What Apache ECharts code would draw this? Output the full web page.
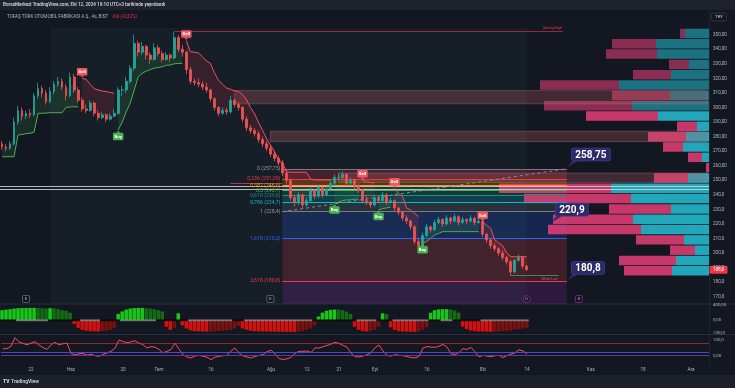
<!DOCTYPE html>
<html lang="tr">
<head>
<meta charset="utf-8">
<title>TOFAŞ 4s</title>
<script src="https://cdn.jsdelivr.net/npm/echarts@6/dist/echarts.min.js"></script>
<style>
html,body{margin:0;padding:0;background:#131722;overflow:hidden;}
#chart{width:735px;height:388px;}
</style>
</head>
<body>
<div id="chart"></div>
<script>
// ================= DATA =================
const tickIdx    = [7, 17, 30, 39, 52, 67, 76, 84, 93, 106, 120, 131, 147, 160, 172];
const tickLabels = ['22','Haz','20','Tem','16','Ağu','12','21','Eyl','16','Eki','14','Kas','18','Ara'];

const opens = [275,273,272,275,290,298,294,296,295,308, 313,310,304,311,316,318,314,308,321,312,
  305,299,298,303,296,293,295,292,294,296, 312,312,318,327,344,338,342,336,333,341,
  337,333,336,334,348,340,338,326,318,317, 316,314,312,306,300,296,298,297,305,302,
  300,292,286,284,282,278,275,272,268,265, 262,255,250,238,235,240,233,236,243,239,
  245,240,244,248,252,252,254,248,250,246, 243,236,235,233,238,236,240,235,236,231,
  228,224,222,218,208,205,212,218,216,221, 223,220,224,222,225,221,223,222,224,221,
  222,213,209,205,203,200,197,194,187,195, 197,191];
const highs = [277,275,277,293,301,300,298,299,310,317, 315,312,314,318,321,320,316,324,323,314,
  307,302,305,304,298,297,296,296,299,314, 315,321,329,350,346,345,343,338,344,343,
  339,338,337,352,350,343,339,328,320,320, 318,317,313,307,301,300,300,308,306,304,
  301,294,288,286,284,280,277,274,270,267, 264,257,251,240,242,241,238,245,244,247,
  246,246,250,254,255,256,255,252,251,248, 244,240,236,240,239,242,241,238,237,232,
  229,226,223,219,210,214,220,219,223,225, 224,226,225,227,226,225,224,226,225,224,
  223,214,210,207,204,202,198,195,196,199, 198,192];
const lows = [271,270,271,274,288,291,292,293,294,306, 307,302,303,309,314,312,305,307,310,303,
  297,296,297,294,291,292,290,291,293,295, 308,310,316,325,335,336,333,330,332,335,
  331,332,331,333,338,335,323,316,315,314, 312,310,304,298,294,295,295,296,300,298,
  290,284,282,280,276,273,270,266,263,260, 253,247,236,232,233,231,232,235,237,238,
  238,239,243,246,250,251,246,247,244,241, 234,233,231,232,234,235,233,234,229,226,
  222,220,216,206,203,204,211,214,215,220, 218,219,220,221,219,220,220,221,219,220,
  211,207,203,201,198,195,192,184.5,186,194, 189,187.5];
const closes = [273,272,275,290,298,294,296,295,308,313, 310,304,311,316,318,314,308,321,312,305,
  299,298,303,296,293,295,292,294,296,312, 312,318,327,344,338,342,336,333,341,337,
  333,336,334,348,340,338,326,318,317,316, 314,312,306,300,296,298,297,305,302,300,
  292,286,284,282,278,275,272,268,265,262, 255,250,238,235,240,233,236,243,239,245,
  240,244,248,252,252,254,248,250,246,243, 236,235,233,238,236,240,235,236,231,228,
  224,222,218,208,205,212,218,216,221,223, 220,224,222,225,221,223,222,224,221,222,
  213,209,205,203,200,197,194,187,195,197, 191,188.6];

const stValues = [266.2,266.2,266.2,266.2,281.1,281.5,282,282.3,283,296, 296,296.2,296.4,296.4,296.4,296.4,300.1,300.3,300.5,300.5,
  320,319.4,316,313,312,311.3,311,310.3,309.7,284.5, 290,297,303,312,321,323.5,325,326,327,327.5,
  328,329,329.2,330,330.3,330.3,346,338.3,338,337.5, 335,332,330.4,324,318.9,316,313.5,312.5,311.5,311,
  309,305.5,300,296,290,284.5,279,274.2,270,264, 262,256,255.5,255.5,255.5,255.5,255.5,251,250.2,250.2,
  250.2,250.2,250.2,234,235,236,236.5,236.5,237,237, 250,249,248.5,248,229.6,230.5,231,231.5,244.5,241,
  238.9,231,229.6,227.3,225,206.7,208,210,212.4,213.5, 214.7,214.7,214.7,214.7,214.7,214.7,214.7,214.7,214.7,214.7,
  221.5,219,217,209,207,205,200,197.5,197.5,197.5, 197.5,197.5];
const stDir = [1,1,1,1,1,1,1,1,1,1, 1,1,1,1,1,1,1,1,1,1,
  -1,-1,-1,-1,-1,-1,-1,-1,-1,1, 1,1,1,1,1,1,1,1,1,1,
  1,1,1,1,1,1,-1,-1,-1,-1, -1,-1,-1,-1,-1,-1,-1,-1,-1,-1,
  -1,-1,-1,-1,-1,-1,-1,-1,-1,-1, -1,-1,-1,-1,-1,-1,-1,-1,-1,-1,
  -1,-1,-1,1,1,1,1,1,1,1, -1,-1,-1,-1,1,1,1,1,-1,-1,
  -1,-1,-1,-1,-1,1,1,1,1,1, 1,1,1,1,1,1,1,1,1,1,
  -1,-1,-1,-1,-1,-1,-1,-1,-1,-1, -1,-1];
const sellIdx = [20, 46, 90, 98, 120];
const buyIdx  = [29, 83, 94, 105];

const momentum = [160,168,175,184,190,193,195,196,197,195, 190,186,190,188,180,160,150,120,-60,-120,
  -150,-165,-172,-175,-175,-170,-165,-150,-120,100, 140,170,185,192,195,196,190,185,175,160,
  140,-100,-150,-120,110,-80,-130,-160,-170,-175, -176,-177,-176,-172,-168,-165,-160,-150,-130,-90,
  -130,-150,-165,-172,-175,-177,-178,-178,-179,-180, -181,-182,-183,-184,-178,-170,-155,-130,-80,60,
  120,150,165,170,168,160,140,100,-100,-150, -170,-175,-170,-150,-100,110,100,-110,-150,-170,
  -178,-180,-182,-183,-175,-150,-110,120,160,172, 175,176,170,155,120,-100,-140,-160,-170,-175,
  -178,-180,-181,-178,-175,-170,-165,-160,-150,-140, -130,-120];
const squeeze = [0,0,0,0,1,1,1,1,1,1, 1,1,0,0,0,0,0,0,0,0, 1,1,1,1,1,0,0,0,0,0,
  1,1,1,1,1,1,1,1,1,0, 0,0,0,0,0,0,0,1,1,1, 1,1,1,1,1,1,1,1,0,0,
  0,1,1,1,1,1,1,1,1,1, 1,1,1,1,1,1,1,1,0,0, 0,0,0,0,0,0,0,0,0,1,
  1,1,1,1,0,0,0,0,1,1, 1,1,1,1,1,1,1,0,0,0, 1,1,1,0,0,0,0,0,0,0,
  1,1,1,1,1,1,1,1,1,1, 1,1];
const oscillator = [45,45,60,115,88,78,70,80,90,68, 52,40,70,85,70,76,80,15,5,12,
  14,3,9,0,-4,8,18,28,48,100, 90,82,88,95,80,70,50,58,55,40,
  18,28,40,80,42,6,-8,-15,-2,2, -3,-10,-25,-10,-4,0,2,30,49,18,
  -2,-8,-15,-5,2,7,26,35,10,-18, -24,-20,-10,15,28,28,30,20,50,49,
  57,65,74,85,78,66,55,17,-6,-8, -2,6,20,50,68,30,2,-3,6,3,
  0,-5,-12,-14,-5,49,58,55,53,60, 72,55,12,8,20,45,40,53,25,-8,
  2,-2,-6,0,2,-12,0,10,18,38, 30,12];
const oscLevels = [80, 20, 0];

const priceTicks = [170,180,190,200,210,220,230,240,250,260,270,280,290,300,310,320,330,340,350];
const histTickValues = [245, 0, -200];
const histTickLabels = ['400,00', '0,00', '-200,0'];
const oscTickValues = [100, 0];
const oscTickLabels = ['100,0', '0,00'];

const fibRatios = ['0','0,236','0,382','0,5','0,618','0,786','1','1,618','2,618'];
const fibPrices = [257.75, 251.0, 246.6, 243.1, 239.6, 234.7, 228.4, 210.2, 180.8];
const fibPriceText = ['257,75','251,00','246,6','243,1','239,6','234,7','228,4','210,2','180,8'];
const fibNextLevel = 151.6;
const fibSpan = [70, 141];

const profileUp   = [24,53,52,20,38,90,39,77,51,12, 23,26,7,0,21,98,78,38,76,68, 25,14,33,37];
const profileDown = [5,44,51,20,38,79,58,88,72,20, 38,20,14,3,34,112,107,62,80,93, 48,25,57,48];
const profileValueAreaStart = 8;

const zoneStart  = [58, 67, 84];
const zoneTop    = [311.7, 283.7, 255.0];
const zoneBottom = [302.5, 276.5, 248.5];

const hLines = [245.7, 244.0];
const redLine = {from: 57, to: 70, price: 247.9};
const trendFrom = [70, 228.4];
const trendTo   = [141, 257.9];
const strongHigh = {from: 43, to: 140, price: 352.7};
const weakLow    = {from: 127, to: 139, price: 184.5};
const bandRange = [12, 131];
const bandTop = 354.6;

const calloutIdx    = [141, 137, 141];
const calloutPrices = [258.75, 220.9, 180.8];

const eventIdx   = [6, 67, 131, 144];
const eventKinds = ['E', 'E', 'D', 'E'];

const headerText = 'BorsaMerkezi TradingView.com, Eki 12, 2024 19:10 UTC+3 tarihinde yayınlandı';
const titleText  = 'TOFAŞ TÜRK OTOMOBİL FABRİKASI A.Ş., 4s, BIST';
const changeText = '-0,6 (-0,32%)';

// ================= BUILD =================
const N_SLOTS = 177;
const categories = Array.from({length: N_SLOTS}, (_, i) => String(i));
const labelMap = {};
tickIdx.forEach((ix, k) => { labelMap[ix] = tickLabels[k]; });

const FONT = 'Roboto, "Liberation Sans", sans-serif';
const AX = '#b2b5be';
const UP = '#26a69a', DOWN = '#ef5350';
const fibColors = ['#787b86','#f23645','#ff9800','#4caf50','#089981','#00bcd4','#787b86','#2962ff','#f23645'];
const fibNextColor = '#9c27b0';
function rgba(hex, a) {
  const n = parseInt(hex.slice(1), 16);
  return `rgba(${(n >> 16) & 255},${(n >> 8) & 255},${n & 255},${a})`;
}
const fmtPrice = v => (v >= 250 ? v.toFixed(2) : v.toFixed(1)).replace('.', ',');
const fmtNum = v => String(v).replace('.', ',');

const nC = closes.length;
const candleData = closes.map((c, i) => [opens[i], c, lows[i], highs[i]]);
const stRed   = stValues.map((v, i) => stDir[i] < 0 ? v : null);
const stGreen = stValues.map((v, i) => stDir[i] > 0 ? v : null);
const fillData = [];
for (let i = 0; i < nC - 1; i++) {
  if (stDir[i] === stDir[i + 1]) {
    fillData.push([i, stValues[i], (opens[i] + closes[i]) / 2, stValues[i + 1], (opens[i + 1] + closes[i + 1]) / 2, stDir[i]]);
  }
}
const signalData = sellIdx.map(i => [i, stValues[i], -1]).concat(buyIdx.map(i => [i, stValues[i], 1]));

const histData = momentum.map((v, i) => {
  const p = i > 0 ? momentum[i - 1] : v;
  let c;
  if (v >= 0) c = v >= p ? '#19c719' : '#136b13';
  else c = v <= p ? '#d41111' : '#7a1010';
  return {value: v, itemStyle: {color: c}};
});
const sqData = squeeze.map((s, i) => ({value: [i, 0], itemStyle: {color: s ? '#8c8c8c' : '#050505'}}));

const profileRows = profileUp.map((_, r) => 'r' + r);
const vpUp = profileUp.map((v, r) => ({value: v, itemStyle: {color: r >= profileValueAreaStart ? 'rgba(38,198,218,0.82)' : 'rgba(38,198,218,0.52)'}}));
const vpDown = profileDown.map((v, r) => ({value: v, itemStyle: {color: r >= profileValueAreaStart ? 'rgba(236,64,122,0.83)' : 'rgba(236,64,122,0.55)'}}));

const fibZones = fibPrices.map((p, k) => {
  const lower = k + 1 < fibPrices.length ? fibPrices[k + 1] : fibNextLevel;
  const col = k + 1 < fibColors.length ? fibColors[k + 1] : fibNextColor;
  return [{xAxis: fibSpan[0], yAxis: p, itemStyle: {color: rgba(col, 0.2)}}, {xAxis: fibSpan[1], yAxis: lower}];
});
const fibLines = fibPrices.map((p, k) => {
  const lc = (k === 0 || k === 6) ? '#9598a1' : fibColors[k];
  return [{coord: [fibSpan[0], p], lineStyle: {color: fibColors[k]},
           label: {show: true, position: 'start', distance: 2, formatter: fibRatios[k] + ' (' + fibPriceText[k] + ')', color: lc, fontSize: 5.2, fontFamily: FONT}},
          {coord: [fibSpan[1], p]}];
});
const boxAreas = zoneStart.map((s, k) => [{xAxis: s, yAxis: zoneTop[k]}, {xAxis: N_SLOTS - 1, yAxis: zoneBottom[k]}]);

const extraLines = [
  ...hLines.map(v => ({yAxis: v, lineStyle: {color: '#d1d4dc', width: 1, opacity: 0.85}})),
  [{coord: [redLine.from, redLine.price], lineStyle: {color: '#c2303e', width: 1}}, {coord: [redLine.to, redLine.price]}],
  [{coord: trendFrom, lineStyle: {color: '#8a8d96', width: 1, type: [3, 3]}}, {coord: trendTo}],
  [{coord: [strongHigh.from, strongHigh.price], lineStyle: {color: 'rgba(242,54,69,0.75)', width: 0.8},
    label: {show: true, position: 'insideEndTop', formatter: 'Strong High', color: '#f23645', fontSize: 3.6, distance: 1}},
   {coord: [strongHigh.to, strongHigh.price]}],
  [{coord: [weakLow.from, weakLow.price], lineStyle: {color: '#5f8f6f', width: 0.8},
    label: {show: true, position: 'insideEndBottom', formatter: 'Weak Low', color: '#787b86', fontSize: 3.6, distance: 1}},
   {coord: [weakLow.to, weakLow.price]}]
];

const option = {
  backgroundColor: '#131722',
  animation: false,
  textStyle: {fontFamily: FONT},
  grid: [
    {left: 0, top: 11, width: 709, height: 293},
    {left: 0, top: 304, width: 709, height: 30},
    {left: 0, top: 335, width: 709, height: 30},
    {left: 409, top: 28.3, width: 300, height: 247.7}
  ],
  xAxis: [
    {type: 'category', gridIndex: 0, data: categories, show: false},
    {type: 'category', gridIndex: 1, data: categories, show: false},
    {type: 'category', gridIndex: 2, data: categories,
     axisLine: {show: false}, axisTick: {show: false}, splitLine: {show: false},
     axisLabel: {interval: 0, formatter: (v, i) => labelMap[i] || '', color: AX, fontSize: 4.6, margin: 2, fontFamily: FONT}},
    {type: 'value', gridIndex: 3, min: 0, max: 300, inverse: true, show: false}
  ],
  yAxis: [
    {type: 'value', gridIndex: 0, position: 'right', min: 165.0, max: 366.28, splitLine: {show: false},
     axisLine: {show: false}, axisTick: {show: false},
     axisLabel: {customValues: priceTicks, formatter: fmtPrice, color: AX, fontSize: 4.6, margin: 4, fontFamily: FONT}},
    {type: 'value', gridIndex: 1, position: 'right', min: -215.7, max: 256.7, splitLine: {show: false},
     axisLine: {show: false}, axisTick: {show: false},
     axisLabel: {customValues: histTickValues, formatter: v => histTickLabels[histTickValues.indexOf(v)], color: AX, fontSize: 4.4, margin: 4, fontFamily: FONT}},
    {type: 'value', gridIndex: 2, position: 'right', min: -59.2, max: 131.8, splitLine: {show: false},
     axisLine: {show: false}, axisTick: {show: false},
     axisLabel: {customValues: oscTickValues, formatter: v => oscTickLabels[oscTickValues.indexOf(v)], color: AX, fontSize: 4.4, margin: 4, fontFamily: FONT}},
    {type: 'category', gridIndex: 3, data: profileRows, inverse: true, show: false}
  ],
  series: [
    { // background band
      type: 'line', xAxisIndex: 0, yAxisIndex: 0, data: [], silent: true,
      markArea: {silent: true, z: 0, itemStyle: {color: 'rgba(60,115,110,0.09)'},
        data: [[{xAxis: bandRange[0], yAxis: bandTop}, {xAxis: bandRange[1], yAxis: 165.0}]]}
    },
    { // fibonacci
      type: 'line', xAxisIndex: 0, yAxisIndex: 0, data: [], silent: true,
      markArea: {silent: true, z: 1, data: fibZones},
      markLine: {silent: true, z: 4, symbol: ['none', 'none'], lineStyle: {type: 'solid', width: 1}, label: {show: false}, data: fibLines}
    },
    { // volume profile
      name: 'up', type: 'bar', xAxisIndex: 3, yAxisIndex: 3, stack: 'vp', data: vpUp, barCategoryGap: '8%', z: 2, silent: true
    },
    {
      name: 'down', type: 'bar', xAxisIndex: 3, yAxisIndex: 3, stack: 'vp', data: vpDown, barCategoryGap: '8%', z: 2, silent: true
    },
    { // zone boxes & drawn lines
      type: 'line', xAxisIndex: 0, yAxisIndex: 0, data: [], silent: true,
      markArea: {silent: true, z: 3, itemStyle: {color: 'rgba(197,95,103,0.27)', borderColor: 'rgba(215,150,160,0.45)', borderWidth: 0.6}, data: boxAreas},
      markLine: {silent: true, z: 4, symbol: ['none', 'none'], lineStyle: {type: 'solid', width: 1}, label: {show: false}, data: extraLines}
    },
    { // supertrend fill
      type: 'custom', xAxisIndex: 0, yAxisIndex: 0, data: fillData, z: 3, silent: true,
      encode: {x: 0, y: 1},
      renderItem: (params, api) => {
        const i = api.value(0);
        const p1 = api.coord([i, api.value(1)]), m1 = api.coord([i, api.value(2)]);
        const p2 = api.coord([i + 1, api.value(3)]), m2 = api.coord([i + 1, api.value(4)]);
        return {type: 'polygon', shape: {points: [p1, p2, m2, m1]},
          style: {fill: api.value(5) > 0 ? 'rgba(76,175,80,0.15)' : 'rgba(242,54,69,0.15)'}};
      }
    },
    {
      type: 'candlestick', xAxisIndex: 0, yAxisIndex: 0, data: candleData, z: 5, barWidth: 2.3, silent: true,
      itemStyle: {color: UP, color0: DOWN, borderColor: UP, borderColor0: DOWN, borderWidth: 0.8}
    },
    {
      type: 'line', xAxisIndex: 0, yAxisIndex: 0, data: stRed, showSymbol: false, z: 6, silent: true,
      lineStyle: {color: '#f2515c', width: 1}, connectNulls: false
    },
    {
      type: 'line', xAxisIndex: 0, yAxisIndex: 0, data: stGreen, showSymbol: false, z: 6, silent: true,
      lineStyle: {color: '#4caf50', width: 1}, connectNulls: false
    },
    { // buy / sell signals
      type: 'custom', xAxisIndex: 0, yAxisIndex: 0, data: signalData, z: 7, silent: true,
      encode: {x: 0, y: 1},
      renderItem: (params, api) => {
        const p = api.coord([api.value(0), api.value(1)]);
        const up = api.value(2) > 0;
        const w = 10.5, h = 7.5;
        const cy = up ? p[1] + 6.5 : p[1] - 6.5;
        const color = up ? '#4caf50' : '#f05a5f';
        const tip = up
          ? [[p[0] - 2, cy - h / 2], [p[0] + 2, cy - h / 2], [p[0], cy - h / 2 - 2]]
          : [[p[0] - 2, cy + h / 2], [p[0] + 2, cy + h / 2], [p[0], cy + h / 2 + 2]];
        return {type: 'group', children: [
          {type: 'rect', shape: {x: p[0] - w / 2, y: cy - h / 2, width: w, height: h, r: 1.2}, style: {fill: color}},
          {type: 'polygon', shape: {points: tip}, style: {fill: color}},
          {type: 'text', style: {text: up ? 'Buy' : 'Sell', x: p[0], y: cy + 0.3, align: 'center', verticalAlign: 'middle',
            fill: '#ffffff', fontSize: 4.4, fontFamily: FONT, fontWeight: 'bold'}}
        ]};
      }
    },
    { // momentum histogram
      type: 'bar', xAxisIndex: 1, yAxisIndex: 1, data: histData, barCategoryGap: '12%', silent: true
    },
    {
      type: 'scatter', xAxisIndex: 1, yAxisIndex: 1, data: sqData, symbol: 'rect', symbolSize: [4.1, 1.8], z: 4, silent: true
    },
    { // oscillator
      type: 'line', xAxisIndex: 2, yAxisIndex: 2, data: oscillator, showSymbol: false, silent: true,
      lineStyle: {color: '#f2505c', width: 1},
      markLine: {silent: true, symbol: ['none', 'none'], label: {show: false},
        data: [
          {yAxis: oscLevels[0], lineStyle: {color: 'rgba(242,54,69,0.55)', width: 1, type: 'solid'}},
          {yAxis: oscLevels[1], lineStyle: {color: '#2f55c8', width: 1, type: 'solid'}},
          {yAxis: oscLevels[2], lineStyle: {color: '#7b2a9c', width: 1, type: 'solid'}}
        ]}
    }
  ]
};

const chart = echarts.init(document.getElementById('chart'), null, {renderer: 'canvas', width: 735, height: 388});
chart.setOption(option);

// ================= OVERLAY GRAPHICS =================
const px = (i, v) => chart.convertToPixel({gridIndex: 0}, [i, v]);
const g = [];
g.push({type: 'rect', shape: {x: 0, y: 0, width: 735, height: 10}, style: {fill: '#1e222d'}, z: 0});
g.push({type: 'text', x: 3, y: 5, style: {text: headerText, fill: '#d1d4dc', fontSize: 4.6, fontWeight: 600, fontFamily: FONT, verticalAlign: 'middle'}});
g.push({type: 'text', x: 7, y: 16.5, style: {text: titleText, fill: '#b2b5be', fontSize: 4.6, fontFamily: FONT, verticalAlign: 'middle'}});
g.push({type: 'text', x: 112, y: 16.5, style: {text: changeText, fill: '#f23645', fontSize: 4.6, fontFamily: FONT, verticalAlign: 'middle'}});
g.push({type: 'rect', shape: {x: 711.5, y: 13, width: 15, height: 8, r: 1.5}, style: {fill: '#131722', stroke: '#434651', lineWidth: 0.6}});
g.push({type: 'text', x: 719, y: 17.2, style: {text: 'TRY', fill: '#d1d4dc', fontSize: 4.4, fontFamily: FONT, align: 'center', verticalAlign: 'middle'}});
// pane separators
[304, 334.5].forEach(y => g.push({type: 'line', shape: {x1: 0, y1: y, x2: 735, y2: y}, style: {stroke: '#2a2e39', lineWidth: 1}}));
g.push({type: 'line', shape: {x1: 709.5, y1: 11, x2: 709.5, y2: 365}, style: {stroke: '#2a2e39', lineWidth: 0.6}});
// footer
g.push({type: 'rect', shape: {x: 0, y: 375, width: 735, height: 13}, style: {fill: '#1c2029'}});
g.push({type: 'text', x: 3, y: 381.5, style: {text: 'TV', fill: '#d1d4dc', fontSize: 5, fontWeight: 900, fontFamily: FONT, verticalAlign: 'middle'}});
g.push({type: 'text', x: 11, y: 381.5, style: {text: 'TradingView', fill: '#d1d4dc', fontSize: 5, fontWeight: 600, fontFamily: FONT, verticalAlign: 'middle'}});
// last price label
const lastP = px(nC - 1, closes[nC - 1]);
g.push({type: 'rect', shape: {x: 709.5, y: lastP[1] - 4, width: 18, height: 8, r: 1}, style: {fill: '#f23645'}});
g.push({type: 'text', x: 718.5, y: lastP[1], style: {text: fmtPrice(closes[nC - 1]), fill: '#ffffff', fontSize: 4.6, fontFamily: FONT, align: 'center', verticalAlign: 'middle'}});
// callouts
calloutIdx.forEach((ix, k) => {
  const p = px(ix, calloutPrices[k]);
  const bx = p[0] + 5, by = p[1] - 19;
  g.push({type: 'polygon', shape: {points: [[p[0], p[1]], [bx + 1, by + 12], [bx + 7, by + 12]]}, style: {fill: '#2e2968'}, z: 10});
  g.push({type: 'text', x: bx, y: by, z: 11, style: {text: fmtNum(calloutPrices[k]), fill: '#ffffff', fontSize: 10, fontWeight: 'bold', fontFamily: FONT,
    backgroundColor: '#2e2968', borderColor: '#403a88', borderWidth: 0.8, padding: [1.5, 3.5, 0.5, 3.5], borderRadius: 1.5}});
});
// event markers
eventIdx.forEach((ix, k) => {
  const x = px(ix, 200)[0];
  const purple = ix > 120;
  const stroke = purple ? '#9c27b0' : '#787b86';
  const txt = purple ? '#ce93d8' : '#b2b5be';
  if (eventKinds[k] === 'D') {
    g.push({type: 'circle', shape: {cx: x, cy: 299, r: 3.5}, style: {fill: '#131722', stroke: stroke, lineWidth: 0.7}, z: 10});
  } else {
    g.push({type: 'rect', shape: {x: x - 3.5, y: 295.5, width: 7, height: 7, r: 1}, style: {fill: '#131722', stroke: stroke, lineWidth: 0.7}, z: 10});
  }
  g.push({type: 'text', x: x, y: 299.2, z: 11, style: {text: eventKinds[k], fill: txt, fontSize: 4.2, fontFamily: FONT, align: 'center', verticalAlign: 'middle'}});
});
chart.setOption({graphic: g});
</script>
</body>
</html>
